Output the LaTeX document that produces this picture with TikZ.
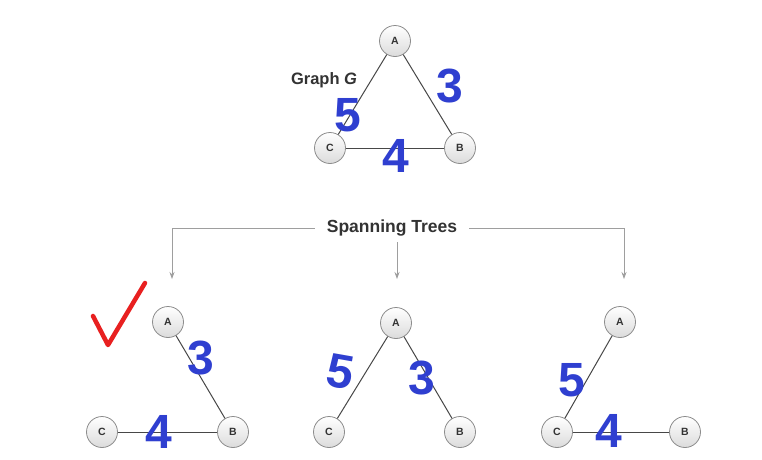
\documentclass[tikz,border=0pt]{standalone}
\usepackage{fontspec}
\setmainfont{Liberation Sans}
\usetikzlibrary{arrows.meta}
\definecolor{hblue}{HTML}{2F3FD0}
\definecolor{hred}{HTML}{E82020}
\definecolor{txt}{HTML}{333333}
\begin{document}
\begin{tikzpicture}[x=1pt,y=-1pt,
  vert/.style={circle, draw=black!45, line width=0.8pt, top color=white, bottom color=black!14,
    minimum size=31pt, inner sep=0pt, font=\bfseries\fontsize{10.5}{12}\selectfont, text=black!80},
  edge/.style={draw=black!72, line width=1pt},
  conn/.style={draw=black!38, line width=0.8pt},
  arr/.style={conn, -{Stealth[length=7pt,width=5pt]}},
  hand/.style={text=hblue, font=\bfseries\fontsize{48}{50}\selectfont, inner sep=0pt},
  lbl/.style={text=txt, font=\bfseries\fontsize{16.5}{18}\selectfont}]
\useasboundingbox (0,0) rectangle (762,459);
\fill[white] (0,0) rectangle (762,459);

% Graph G
\node[vert] (gA) at (395,41) {A};
\node[vert] (gC) at (330,148) {C};
\node[vert] (gB) at (460,148) {B};
\draw[edge] (gA) -- (gC);
\draw[edge] (gA) -- (gB);
\draw[edge] (gC) -- (gB);
\node[lbl] (gl) at (324,80) {Graph \textit{G}};
\node[hand] (g5) at (348,115) {5};
\node[hand] (g3) at (450,86) {3};
\node[hand] (g4) at (396,156) {4};

% Spanning trees label and connectors
\node[lbl, font=\bfseries\fontsize{17.5}{19}\selectfont, inner xsep=12pt] (st) at (392,228) {Spanning Trees};
\coordinate (lc) at (172,228);
\coordinate (rc) at (624,228);
\coordinate (la) at (172,279);
\coordinate (ma) at (397,279);
\coordinate (ra) at (624,279);
\coordinate (ms) at (397,242);
\draw[arr] (st.west) -- (lc) -- (la);
\draw[arr] (st.east) -- (rc) -- (ra);
\draw[arr] (ms) -- (ma);

% Tree 1
\node[vert] (aA) at (168,322) {A};
\node[vert] (aC) at (102,432) {C};
\node[vert] (aB) at (233,432) {B};
\draw[edge] (aA) -- (aB);
\draw[edge] (aC) -- (aB);
\node[hand] (a3) at (201,358) {3};
\node[hand] (a4) at (159,432) {4};
\coordinate (k1) at (93,316);
\coordinate (k2) at (108,345);
\coordinate (k3) at (145,283);
\draw[hred, line width=4.5pt, line cap=round, line join=round] (k1) -- (k2) -- (k3);

% Tree 2
\node[vert] (bA) at (396,323) {A};
\node[vert] (bC) at (329,432) {C};
\node[vert] (bB) at (460,432) {B};
\draw[edge] (bA) -- (bC);
\draw[edge] (bA) -- (bB);
\node[hand, rotate=-10] (b5) at (340,372) {5};
\node[hand] (b3) at (422,378) {3};

% Tree 3
\node[vert] (cA) at (620,322) {A};
\node[vert] (cC) at (557,432) {C};
\node[vert] (cB) at (685,432) {B};
\draw[edge] (cA) -- (cC);
\draw[edge] (cC) -- (cB);
\node[hand] (c5) at (572,380) {5};
\node[hand] (c4) at (609,431) {4};
\end{tikzpicture}
\end{document}
